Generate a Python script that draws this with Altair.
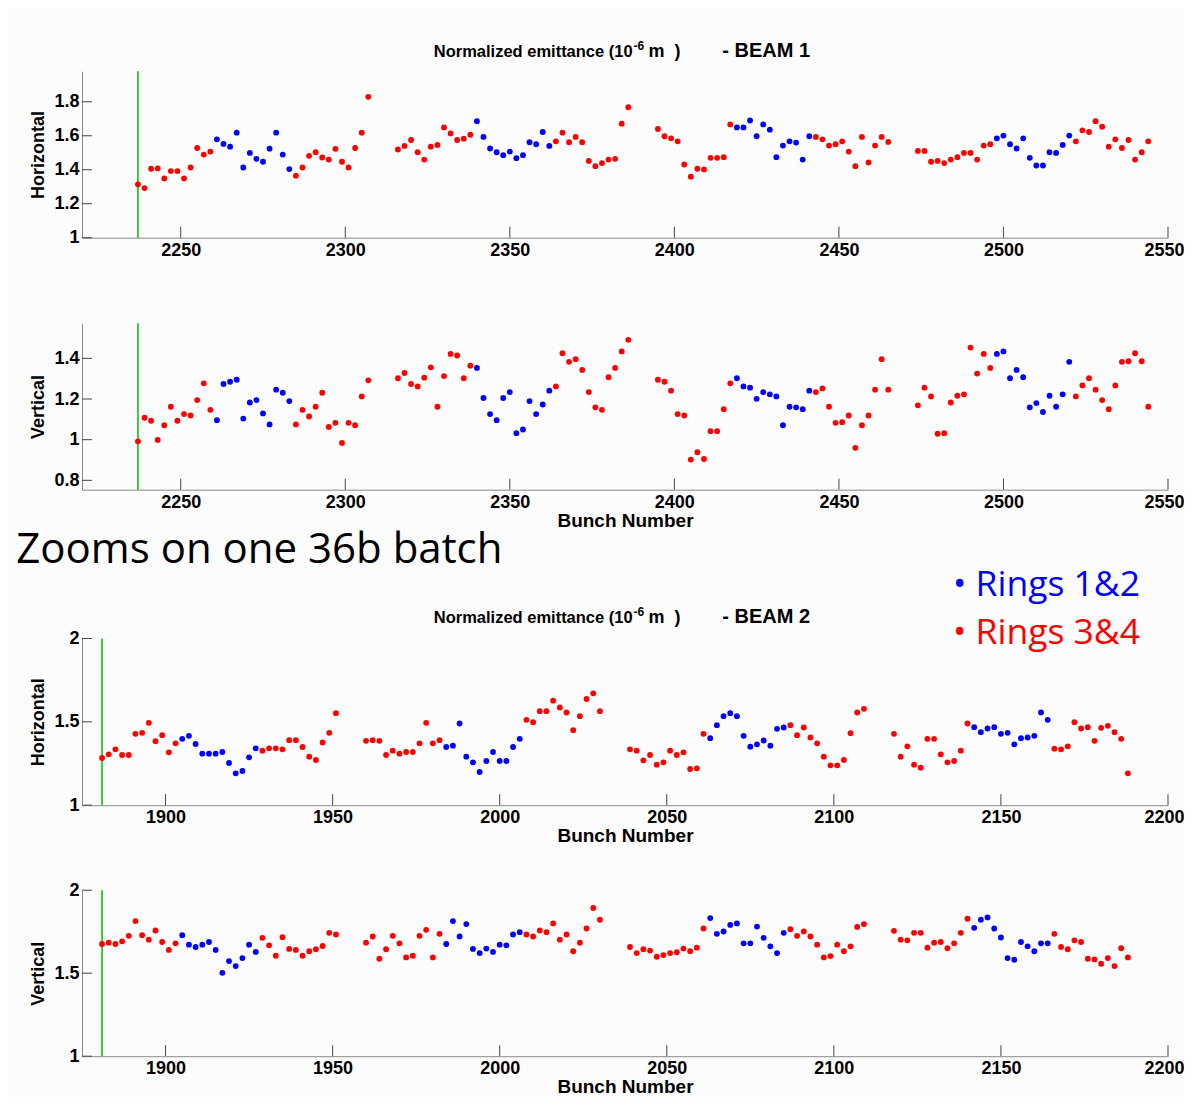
import altair as alt
import pandas as pd

# ---------------- data ----------------
B1_STARTS = [2237, 2316, 2395, 2474]   # first bunch of each 36b batch, beam 1
B2_STARTS = [1881, 1960, 2039, 2118]   # first bunch of each 36b batch, beam 2
BUNCH_STEP = 2                          # 50 ns spacing
RING_PATTERN = "RRRRRRRRRRRRBBBBBBBBBBBBRRRRRRRRRRRR"  # R = rings 3&4, B = rings 1&2
RING_NAME = {"R": "Rings 3&4", "B": "Rings 1&2"}

B1_H = [
    1.314, 1.292, 1.406, 1.408, 1.349, 1.392, 1.392, 1.349, 1.413, 1.528, 1.489, 1.507,
    1.579, 1.552, 1.536, 1.618, 1.413, 1.499, 1.464, 1.447, 1.524, 1.618, 1.489, 1.404,
    1.365, 1.413, 1.482, 1.503, 1.472, 1.460, 1.523, 1.447, 1.413, 1.528, 1.618, 1.829,
    1.519, 1.540, 1.575, 1.503, 1.460, 1.536, 1.546, 1.649, 1.614, 1.575, 1.583, 1.606,
    1.686, 1.593, 1.525, 1.503, 1.486, 1.507, 1.468, 1.486, 1.562, 1.550, 1.622, 1.540,
    1.567, 1.618, 1.562, 1.593, 1.562, 1.452, 1.421, 1.439, 1.460, 1.464, 1.671, 1.768,
    1.640, 1.597, 1.585, 1.567, 1.431, 1.359, 1.406, 1.402, 1.470, 1.470, 1.474, 1.667,
    1.649, 1.649, 1.690, 1.597, 1.667, 1.636, 1.474, 1.542, 1.567, 1.560, 1.460, 1.597,
    1.593, 1.579, 1.542, 1.550, 1.567, 1.507, 1.421, 1.593, 1.443, 1.542, 1.593, 1.564,
    1.511, 1.511, 1.447, 1.452, 1.439, 1.460, 1.474, 1.499, 1.499, 1.460, 1.542, 1.550,
    1.585, 1.601, 1.550, 1.525, 1.585, 1.470, 1.425, 1.425, 1.503, 1.499, 1.546, 1.601,
    1.567, 1.632, 1.622, 1.686, 1.653, 1.536, 1.579, 1.528, 1.575, 1.460, 1.503, 1.567,
]
B1_V = [
    0.992, 1.108, 1.093, 0.999, 1.071, 1.162, 1.093, 1.126, 1.119, 1.195, 1.277, 1.147,
    1.096, 1.274, 1.285, 1.295, 1.104, 1.183, 1.195, 1.129, 1.075, 1.246, 1.231, 1.190,
    1.075, 1.147, 1.114, 1.162, 1.231, 1.063, 1.083, 0.984, 1.083, 1.071, 1.213, 1.292,
    1.302, 1.328, 1.274, 1.262, 1.305, 1.356, 1.162, 1.313, 1.422, 1.414, 1.302, 1.364,
    1.353, 1.205, 1.126, 1.096, 1.205, 1.234, 1.032, 1.050, 1.190, 1.126, 1.173, 1.241,
    1.262, 1.425, 1.383, 1.396, 1.343, 1.234, 1.159, 1.147, 1.307, 1.353, 1.434, 1.491,
    1.295, 1.285, 1.241, 1.126, 1.119, 0.902, 0.938, 0.905, 1.042, 1.042, 1.150, 1.277,
    1.302, 1.262, 1.256, 1.201, 1.234, 1.223, 1.213, 1.071, 1.162, 1.159, 1.150, 1.241,
    1.234, 1.252, 1.162, 1.083, 1.086, 1.119, 0.960, 1.071, 1.119, 1.246, 1.396, 1.246,
    1.169, 1.256, 1.213, 1.029, 1.032, 1.183, 1.216, 1.223, 1.453, 1.325, 1.422, 1.353,
    1.422, 1.434, 1.302, 1.343, 1.307, 1.159, 1.180, 1.136, 1.216, 1.162, 1.223, 1.383,
    1.213, 1.267, 1.302, 1.246, 1.195, 1.150, 1.267, 1.383, 1.386, 1.425, 1.386, 1.162,
]
B2_H = [
    1.283, 1.305, 1.335, 1.301, 1.301, 1.428, 1.434, 1.494, 1.384, 1.420, 1.317, 1.371,
    1.398, 1.416, 1.367, 1.309, 1.309, 1.309, 1.319, 1.253, 1.191, 1.205, 1.287, 1.341,
    1.327, 1.341, 1.341, 1.335, 1.390, 1.390, 1.349, 1.291, 1.271, 1.376, 1.434, 1.552,
    1.386, 1.390, 1.386, 1.301, 1.327, 1.309, 1.319, 1.319, 1.371, 1.494, 1.371, 1.390,
    1.349, 1.357, 1.490, 1.291, 1.257, 1.199, 1.265, 1.319, 1.265, 1.265, 1.349, 1.398,
    1.512, 1.498, 1.564, 1.564, 1.627, 1.586, 1.556, 1.450, 1.534, 1.637, 1.671, 1.564,
    1.335, 1.327, 1.269, 1.301, 1.243, 1.257, 1.327, 1.301, 1.317, 1.217, 1.221, 1.428,
    1.402, 1.480, 1.534, 1.552, 1.534, 1.416, 1.351, 1.365, 1.388, 1.357, 1.458, 1.466,
    1.480, 1.420, 1.466, 1.406, 1.371, 1.291, 1.239, 1.239, 1.271, 1.432, 1.556, 1.578,
    1.428, 1.291, 1.353, 1.243, 1.225, 1.398, 1.398, 1.305, 1.257, 1.265, 1.327, 1.490,
    1.468, 1.438, 1.460, 1.468, 1.428, 1.434, 1.365, 1.402, 1.406, 1.416, 1.556, 1.512,
    1.339, 1.335, 1.353, 1.498, 1.460, 1.468, 1.386, 1.464, 1.476, 1.438, 1.398, 1.191,
]
B2_V = [
    1.676, 1.684, 1.676, 1.692, 1.725, 1.814, 1.729, 1.702, 1.757, 1.688, 1.640, 1.680,
    1.729, 1.672, 1.658, 1.672, 1.688, 1.640, 1.502, 1.573, 1.543, 1.591, 1.672, 1.628,
    1.713, 1.668, 1.605, 1.717, 1.646, 1.640, 1.605, 1.632, 1.644, 1.664, 1.743, 1.733,
    1.684, 1.721, 1.587, 1.644, 1.725, 1.680, 1.595, 1.605, 1.725, 1.761, 1.595, 1.737,
    1.676, 1.814, 1.721, 1.796, 1.646, 1.621, 1.648, 1.628, 1.672, 1.668, 1.733, 1.747,
    1.733, 1.721, 1.757, 1.747, 1.800, 1.702, 1.733, 1.632, 1.684, 1.769, 1.893, 1.822,
    1.658, 1.621, 1.644, 1.636, 1.599, 1.609, 1.621, 1.626, 1.648, 1.632, 1.654, 1.769,
    1.832, 1.737, 1.751, 1.791, 1.800, 1.680, 1.680, 1.781, 1.713, 1.662, 1.621, 1.743,
    1.765, 1.725, 1.751, 1.721, 1.672, 1.595, 1.603, 1.672, 1.632, 1.662, 1.779, 1.796,
    1.755, 1.702, 1.698, 1.743, 1.743, 1.654, 1.684, 1.688, 1.650, 1.680, 1.743, 1.828,
    1.773, 1.822, 1.836, 1.769, 1.715, 1.591, 1.581, 1.688, 1.662, 1.632, 1.680, 1.680,
    1.737, 1.658, 1.644, 1.698, 1.688, 1.587, 1.583, 1.557, 1.591, 1.543, 1.650, 1.595,
]

B1_XDOMAIN = [2220, 2550]
B2_XDOMAIN = [1875, 2200]
B1_XTICKS = [2250, 2300, 2350, 2400, 2450, 2500, 2550]
B2_XTICKS = [1900, 1950, 2000, 2050, 2100, 2150, 2200]
B1H_YDOMAIN, B1H_YTICKS = [1.0, 1.98], [1.0, 1.2, 1.4, 1.6, 1.8]
B1V_YDOMAIN, B1V_YTICKS = [0.754, 1.573], [0.8, 1.0, 1.2, 1.4]
B2_YDOMAIN, B2_YTICKS = [1.0, 2.0], [1.0, 1.5, 2.0]

TITLE_HEAD = "Normalized emittance (10"
TITLE_SUP = "-6"
TITLE_UNIT = "m\u00a0\u00a0)"
TITLE_BEAM = ["- BEAM 1", "- BEAM 2"]
ZOOM_TEXT = "Zooms on one 36b batch"
LEGEND = ["\u2022 Rings 1&2", "\u2022 Rings 3&4"]

# ---------------- style ----------------
FONT = "Liberation Sans"
BIG_FONT = "Open Sans"
W = 1086
H = 166.5
H3_TOP = 63.3          # extra room above panel 3 plot for texts
H3 = H3_TOP + 166.7
AXIS_COL = "#8a8a8a"
TICK_COL = "#444444"
GREEN = "#00BE00"
COLORS = alt.Scale(domain=["Rings 1&2", "Rings 3&4"], range=["#0000FF", "#FF0000"])


def make_df(starts, values):
    rows = []
    for b, s in enumerate(starts):
        for i, r in enumerate(RING_PATTERN):
            rows.append({"bunch": s + BUNCH_STEP * i,
                         "value": values[b * len(RING_PATTERN) + i],
                         "ring": RING_NAME[r]})
    return pd.DataFrame(rows)


def x_axis(ticks, title):
    kw = dict(values=ticks, format="d", ticks=False, tickSize=0, grid=False,
              domainColor=AXIS_COL, domainWidth=1,
              labelFont=FONT, labelFontSize=18, labelFontWeight="bold",
              labelColor="black", labelPadding=3.8,
              labelFlush=True, labelFlushOffset=16, labelOverlap=False)
    if title:
        kw.update(title=title, titleFont=FONT, titleFontSize=19, titleFontWeight="bold",
                  titleColor="black", titlePadding=0)
    else:
        kw["title"] = None
    return alt.Axis(**kw)


def y_axis(ticks, title):
    return alt.Axis(values=ticks, format="~g", ticks=False, tickSize=0, grid=False,
                    domainColor=AXIS_COL, domainWidth=1,
                    labelFont=FONT, labelFontSize=18, labelFontWeight="bold",
                    labelColor="black", labelPadding=3, labelFlush=False, labelOverlap=False,
                    title=title, titleFont=FONT, titleFontSize=18, titleFontWeight="bold",
                    titleColor="black", titlePadding=6)


def text_layer(label, x, y, size, color="black", font=FONT, weight="bold", align="left"):
    return alt.Chart(pd.DataFrame({"label": [label]})).mark_text(
        font=font, fontSize=size, fontWeight=weight, color=color, align=align,
        baseline="alphabetic").encode(
        x=alt.value(x), y=alt.value(y), text="label:N")


def title_layers(beam_label, baseline_y):
    return [
        text_layer(TITLE_HEAD, 550.6, baseline_y, 16.5, align="right"),
        text_layer(TITLE_SUP, 551.6, baseline_y - 6.5, 12, align="left"),
        text_layer(TITLE_UNIT, 566.6, baseline_y, 18, align="left"),
        text_layer(beam_label, 640.3, baseline_y, 20, align="left"),
    ]


def panel(starts, values, xdom, xticks, ydom, yticks, ytitle, xtitle, height,
          yrange=None, texts=None):
    df = make_df(starts, values)
    xs = alt.Scale(domain=xdom, nice=False, zero=False)
    if yrange is None:
        ys = alt.Scale(domain=ydom, nice=False, zero=False)
    else:
        ys = alt.Scale(domain=ydom, range=yrange, nice=False, zero=False)

    pts = alt.Chart(df).mark_circle(size=34, opacity=1).encode(
        x=alt.X("bunch:Q", scale=xs, axis=x_axis(xticks, xtitle)),
        y=alt.Y("value:Q", scale=ys, axis=y_axis(yticks, ytitle)),
        color=alt.Color("ring:N", scale=COLORS, legend=None))

    green = alt.Chart(pd.DataFrame({"bunch": [starts[0]], "lo": [ydom[0]], "hi": [ydom[1]]})).mark_rule(
        color=GREEN, strokeWidth=1.5).encode(
        x=alt.X("bunch:Q", scale=xs),
        y=alt.Y("hi:Q", scale=ys), y2="lo:Q")

    ytk = alt.Chart(pd.DataFrame({"value": yticks})).mark_rule(
        color=TICK_COL, strokeWidth=1).encode(
        y=alt.Y("value:Q", scale=ys), x=alt.value(0), x2=alt.value(10))
    xtk = alt.Chart(pd.DataFrame({"bunch": xticks})).mark_rule(
        color=TICK_COL, strokeWidth=1).encode(
        x=alt.X("bunch:Q", scale=xs), y=alt.value(height), y2=alt.value(height - 11))

    layers = [green, pts, ytk, xtk] + list(texts or [])
    return alt.layer(*layers).properties(width=W, height=height)


p1 = panel(B1_STARTS, B1_H, B1_XDOMAIN, B1_XTICKS, B1H_YDOMAIN, B1H_YTICKS,
           "Horizontal", None, H,
           texts=title_layers(TITLE_BEAM[0], -14.3))
p2 = panel(B1_STARTS, B1_V, B1_XDOMAIN, B1_XTICKS, B1V_YDOMAIN, B1V_YTICKS,
           "Vertical", "Bunch Number", H)
p3 = panel(B2_STARTS, B2_H, B2_XDOMAIN, B2_XTICKS, B2_YDOMAIN, B2_YTICKS,
           "Horizontal", "Bunch Number", H3, yrange=[H3, H3_TOP],
           texts=title_layers(TITLE_BEAM[1], H3_TOP - 15.6) + [
               text_layer(ZOOM_TEXT, -65.7, -12, 42, font=BIG_FONT, weight="normal"),
               text_layer(LEGEND[0], 871, 20.5, 35.5, color="#0000FF", font=BIG_FONT, weight="normal"),
               text_layer(LEGEND[1], 871, 69, 35.5, color="#FF0000", font=BIG_FONT, weight="normal"),
           ])
p4 = panel(B2_STARTS, B2_V, B2_XDOMAIN, B2_XTICKS, B2_YDOMAIN, B2_YTICKS,
           "Vertical", "Bunch Number", 166)

chart = alt.vconcat(p1, p2, p3, p4, spacing=85, bounds="flush").properties(
    padding={"left": 8, "top": 32.2, "right": 0, "bottom": 0},
    background="#fcfcfc",
).configure_view(stroke=None)

chart.save("out.html", embed_options={"renderer": "svg", "actions": False})
